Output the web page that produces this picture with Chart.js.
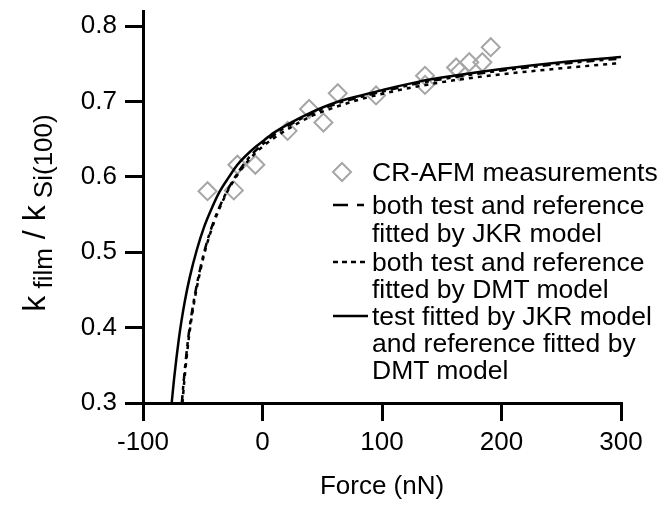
<!DOCTYPE html>
<html>
<head>
<meta charset="utf-8">
<script src="https://cdn.jsdelivr.net/npm/chart.js@4.4.0/dist/chart.umd.min.js"></script>
<style>
  body { margin: 0; background: #fff; }
  #wrap { position: relative; width: 668px; height: 506px; font-family: "Liberation Sans", Arial, sans-serif; }
  .lg { position: absolute; left: 372px; font-size: 26.5px; line-height: 28px; color: #000; white-space: nowrap; }
  #ylab { position: absolute; left: -126px; top: 195px; width: 320px; height: 36px; line-height: 36px;
          text-align: center; font-size: 32px; transform: rotate(-90deg); white-space: nowrap; }
  #ylab sub { font-size: 26px; vertical-align: -7px; }
  svg { position: absolute; left: 0; top: 0; pointer-events: none; }
</style>
</head>
<body>
<div id="wrap">
  <canvas id="chart" width="668" height="506"></canvas>
  <div id="ylab">k<sub>&nbsp;film</sub> / k<sub>&nbsp;Si(100)</sub></div>
  <svg width="668" height="506">
    <polygon points="342,163 351,172 342,181 333,172" fill="none" stroke="#a6a6a6" stroke-width="2"/>
    <line x1="333" y1="205" x2="364" y2="205" stroke="#000" stroke-width="2.5" stroke-dasharray="15 9 7 40"/>
    <line x1="333" y1="262" x2="366" y2="262" stroke="#000" stroke-width="2.5" stroke-dasharray="5 4"/>
    <line x1="333" y1="316" x2="368" y2="316" stroke="#000" stroke-width="2.5"/>
  </svg>
  <div class="lg" style="top:158px">CR-AFM measurements</div>
  <div class="lg" style="top:191px">both test and reference</div>
  <div class="lg" style="top:219px">fitted by JKR model</div>
  <div class="lg" style="top:248px">both test and reference</div>
  <div class="lg" style="top:275px">fitted by DMT model</div>
  <div class="lg" style="top:302px">test fitted by JKR model</div>
  <div class="lg" style="top:329px">and reference fitted by</div>
  <div class="lg" style="top:356px">DMT model</div>
</div>
<script>
//tick values
const xTicks = [-100, 0, 100, 200, 300];
const yTicks = [0.3, 0.4, 0.5, 0.6, 0.7, 0.8];

//CR-AFM measurements
const measForce = [-46, -24, -21, -6, 21, 39, 51, 63, 95, 136, 136, 162, 165, 173, 184, 191];
const measK = [0.581, 0.582, 0.616, 0.616, 0.661, 0.690, 0.672, 0.711, 0.708, 0.734, 0.722, 0.745, 0.740, 0.752, 0.752, 0.772];

//both test and reference fitted by JKR model (dashed)
const jkrForce = [-67.5, -66, -64, -62, -60, -57, -53, -48, -41, -31, -20, -10, 0, 10, 25, 40, 60, 80, 100, 130, 160, 200, 250, 300];
const jkrK = [0.300, 0.328, 0.360, 0.388, 0.411, 0.440, 0.472, 0.505, 0.540, 0.577, 0.607, 0.628, 0.643, 0.656, 0.671, 0.683, 0.696, 0.705, 0.713, 0.724, 0.732, 0.741, 0.750, 0.757];

//both test and reference fitted by DMT model (dotted)
const dmtForce = [-67, -65.5, -63.5, -61.5, -59.5, -56.5, -52.5, -47.5, -40.5, -30.5, -20, -10, 0, 10, 25, 40, 60, 80, 100, 130, 160, 200, 250, 300];
const dmtK = [0.300, 0.328, 0.360, 0.388, 0.411, 0.440, 0.472, 0.505, 0.540, 0.577, 0.605, 0.625, 0.640, 0.652, 0.667, 0.680, 0.692, 0.702, 0.710, 0.720, 0.728, 0.736, 0.744, 0.751];

//test fitted by JKR, reference fitted by DMT (solid)
const mixForce = [-76, -74, -72, -70, -68, -65, -61, -55, -49, -42, -36, -28, -21, -10, 0, 10, 25, 40, 60, 80, 100, 130, 160, 200, 250, 300];
const mixK = [0.300, 0.332, 0.360, 0.385, 0.407, 0.435, 0.466, 0.503, 0.533, 0.560, 0.580, 0.600, 0.616, 0.634, 0.647, 0.659, 0.673, 0.685, 0.698, 0.707, 0.715, 0.726, 0.734, 0.743, 0.752, 0.759];

function toPoints(xs, ys) {
    return xs.map((x, i) => ({x: x, y: ys[i]}));
}

function fitLine(xs, ys, dash, order) {
    return {
        type: 'line',
        data: toPoints(xs, ys),
        borderColor: '#000',
        borderWidth: 2.5,
        borderDash: dash,
        pointRadius: 0,
        fill: false,
        cubicInterpolationMode: 'monotone',
        order: order
    };
}

//drop the label overflow padding so the plot box lands where it should
function noPad(s) {
    s.paddingTop = 0;
    s.paddingBottom = 0;
    s.paddingLeft = 0;
    s.paddingRight = 0;
}

const font = {family: '"Liberation Sans", Arial, sans-serif', size: 26};

new Chart(document.getElementById('chart'), {
    type: 'scatter',
    data: {
        datasets: [
            {
                type: 'scatter',
                data: toPoints(measForce, measK),
                pointStyle: 'rectRot',
                pointRadius: 9,
                borderColor: '#a6a6a6',
                borderWidth: 2,
                backgroundColor: 'rgba(0,0,0,0)',
                order: 10
            },
            fitLine(jkrForce, jkrK, [8, 5, 4, 5], 3),
            fitLine(dmtForce, dmtK, [4, 5], 2),
            fitLine(mixForce, mixK, [], 1)
        ]
    },
    options: {
        responsive: false,
        animation: false,
        layout: {padding: {left: 0, right: 47, top: 8, bottom: 0}},
        plugins: {
            legend: {display: false},
            tooltip: {enabled: false}
        },
        scales: {
            x: {
                type: 'linear',
                min: -100,
                max: 300,
                afterBuildTicks: (s) => { s.ticks = xTicks.map(v => ({value: v})); },
                afterFit: (s) => { s.height = 103; noPad(s); },
                grid: {drawOnChartArea: false, tickLength: 18, color: '#000', lineWidth: 3},
                border: {color: '#000', width: 3},
                ticks: {color: '#000', font: font, padding: 6, maxRotation: 0},
                title: {display: true, text: 'Force (nN)', color: '#000', font: font, padding: {top: 2}}
            },
            y: {
                type: 'linear',
                min: 0.3,
                max: 0.82,
                afterBuildTicks: (s) => { s.ticks = yTicks.map(v => ({value: v})); },
                afterFit: (s) => { s.width = 143; noPad(s); },
                grid: {drawOnChartArea: false, tickLength: 18, color: '#000', lineWidth: 3},
                border: {color: '#000', width: 3},
                ticks: {color: '#000', font: font, padding: 8, callback: (v) => v.toFixed(1)}
            }
        }
    }
});
</script>
</body>
</html>
